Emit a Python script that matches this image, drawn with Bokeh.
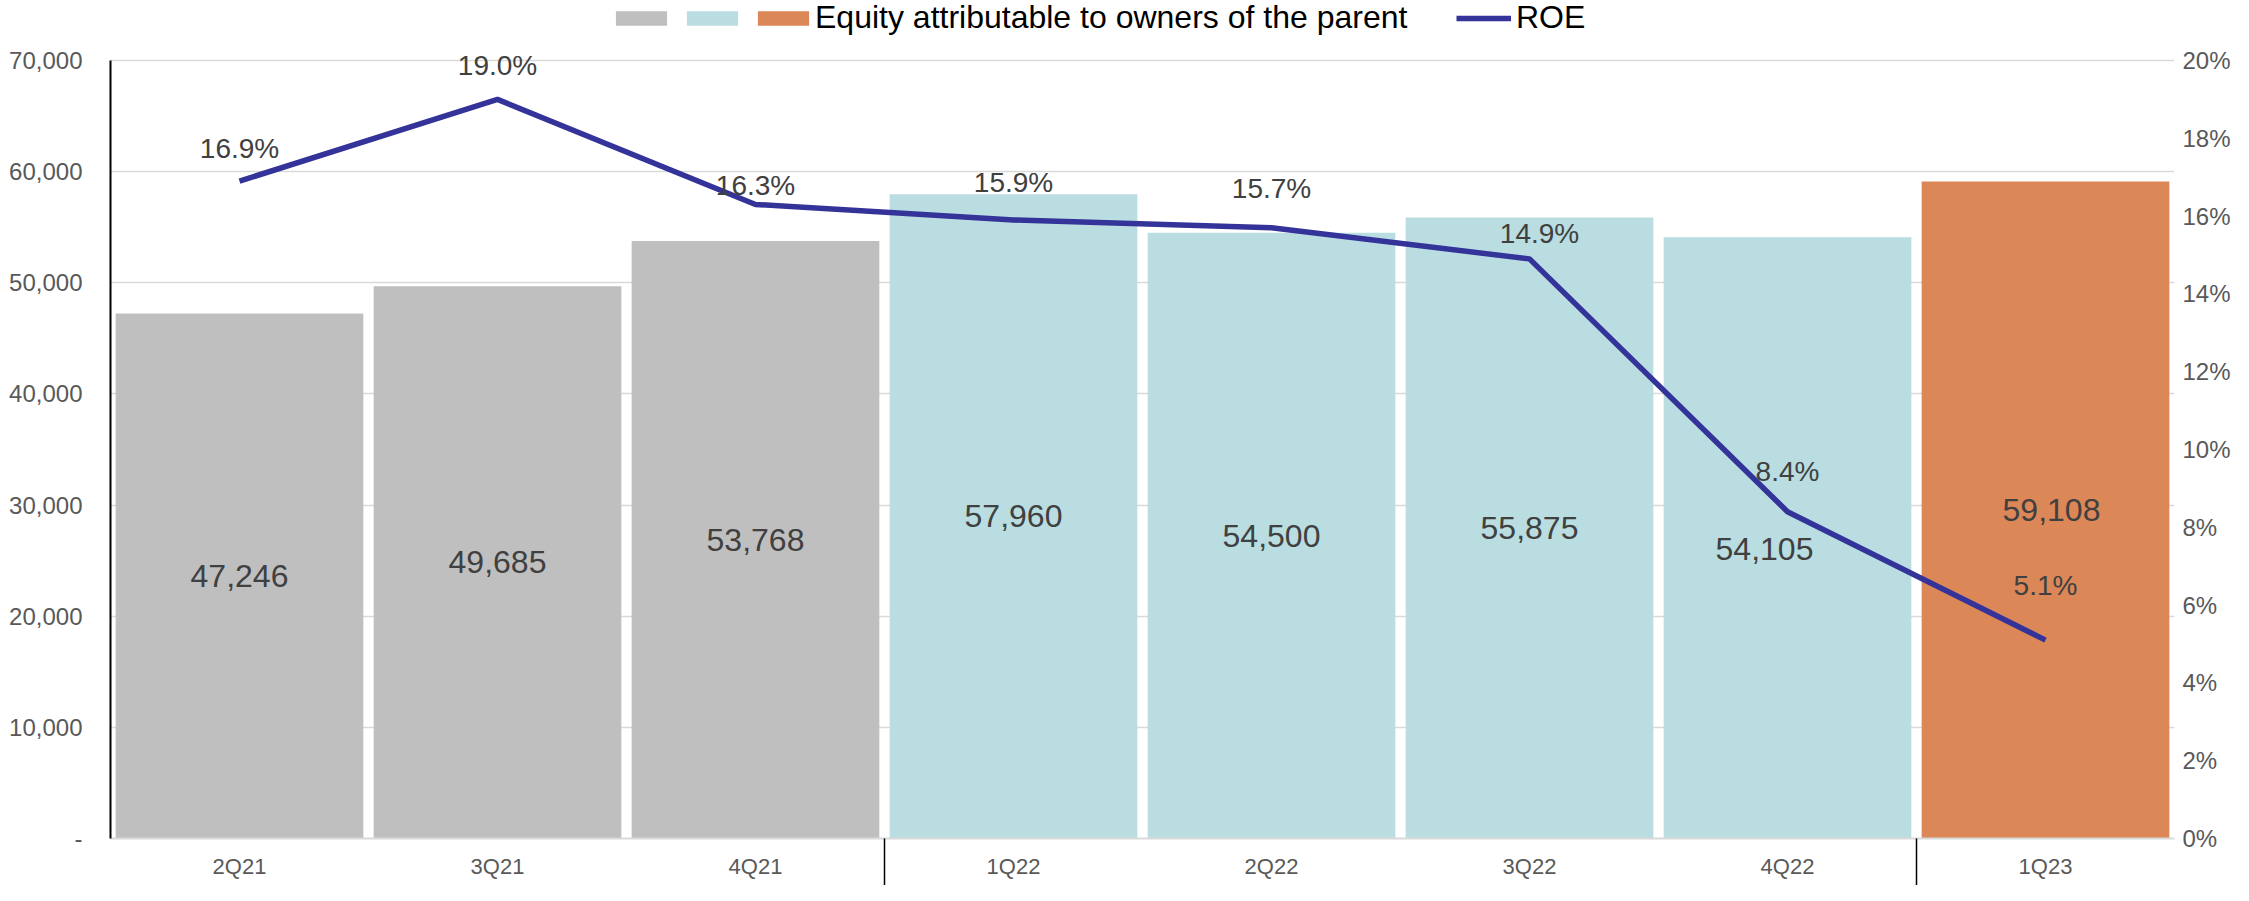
import numpy as np
from bokeh.plotting import figure
from bokeh.models import (ColumnDataSource, Range1d, LinearAxis, FixedTicker,
                          NumeralTickFormatter, PrintfTickFormatter, Legend, LegendItem)
from bokeh.core.properties import value
from bokeh.embed import file_html
from bokeh.resources import INLINE

# ---------------- data ----------------
quarters = ["2Q21", "3Q21", "4Q21", "1Q22", "2Q22", "3Q22", "4Q22", "1Q23"]
equity = [47246, 49685, 53768, 57960, 54500, 55875, 54105, 59108]
roe = [16.9, 19.0, 16.3, 15.9, 15.7, 14.9, 8.4, 5.1]
equity_ticks = [0, 10000, 20000, 30000, 40000, 50000, 60000, 70000]
roe_ticks = [0, 2, 4, 6, 8, 10, 12, 14, 16, 18, 20]
group_breaks = [3, 7]  # boundaries between 4Q21|1Q22 and 4Q22|1Q23
legend_label = "Equity attributable to owners of the parent"
roe_name = "ROE"

# ---------------- style / layout ----------------
FONT = "Liberation Sans"
GRAY, BLUE, ORANGE = "#BFBFBF", "#B9DDE1", "#DC8758"
bar_colors = [GRAY] * 3 + [BLUE] * 4 + [ORANGE]
bar_label_dx = [0, 0, 0, 0, 0, 0, -23, 6]
bar_label_dy = [0, 0, 0, 0, 0, 0, 11, 0]
roe_label_dx = [0, 0, 0, 0, 0, 10, 0, 0]
roe_label_dy = [-33, -34, -19, -37, -39, -25, -40, -55]

W, H = 2233, 885
LEFT, RIGHT, BOTTOM = 110, 58, 47
TOP_PAD = 60                      # space above the 70,000 gridline (legend area)
PLOT_H = H - BOTTOM - TOP_PAD     # pixel height of the value area
eq_max = equity_ticks[-1]
roe_max = roe_ticks[-1]
eq_top = eq_max * (PLOT_H + TOP_PAD) / PLOT_H
roe_top = roe_max * (PLOT_H + TOP_PAD) / PLOT_H

x = np.arange(len(quarters)) + 0.5

src = ColumnDataSource(dict(
    x=x,
    equity=equity,
    half=np.array(equity) / 2.0,
    label=[f"{v:,}" for v in equity],
    color=bar_colors,
    bdx=bar_label_dx, bdy=bar_label_dy,
    roe=roe,
    roe_label=[f"{v:.1f}%" for v in roe],
    rdx=roe_label_dx, rdy=roe_label_dy,
))

p = figure(width=W, height=H,
           x_range=Range1d(0, len(quarters)), y_range=Range1d(0, eq_top),
           output_backend="svg", toolbar_location=None,
           min_border_left=LEFT, min_border_right=RIGHT,
           min_border_top=0, min_border_bottom=BOTTOM)
p.extra_y_ranges = {"roe": Range1d(0, roe_top)}
p.outline_line_color = None
p.background_fill_color = "white"

bars = p.vbar(x="x", top="equity", bottom=0, width=0.96, fill_color="color",
              line_color=None, source=src)

p.text(x="x", y="half", text="label", x_offset="bdx", y_offset="bdy",
       text_align="center", text_baseline="middle",
       text_font=value(FONT), text_font_size="32px", text_color="#404040",
       source=src)

line = p.line(x="x", y="roe", y_range_name="roe", line_color="#333399",
              line_width=5.5, source=src)

p.text(x="x", y="roe", text="roe_label", y_range_name="roe",
       x_offset="rdx", y_offset="rdy",
       text_align="center", text_baseline="middle",
       text_font=value(FONT), text_font_size="28px", text_color="#404040",
       source=src)

# ---------------- axes ----------------
xa = p.xaxis[0]
xa.ticker = FixedTicker(ticks=list(x), minor_ticks=group_breaks)
xa.major_label_overrides = {float(xi): q for xi, q in zip(x, quarters)}
xa.major_tick_out = 0
xa.major_tick_in = 0
xa.major_tick_line_color = None
xa.minor_tick_in = 0
xa.minor_tick_out = BOTTOM
xa.minor_tick_line_color = "black"
xa.minor_tick_line_width = 1.5
xa.axis_line_color = "#D9D9D9"
xa.axis_line_width = 2
xa.major_label_standoff = -32
xa.major_label_text_font = FONT
xa.major_label_text_font_size = "22px"
xa.major_label_text_color = "#595959"

ya = p.yaxis[0]
ya.ticker = FixedTicker(ticks=equity_ticks)
ya.formatter = NumeralTickFormatter(format="0,0")
ya.major_label_overrides = {0: "-"}
ya.bounds = (0, eq_max)
ya.major_tick_out = 0
ya.major_tick_in = 0
ya.major_tick_line_color = None
ya.minor_tick_line_color = None
ya.axis_line_color = "black"
ya.axis_line_width = 2
ya.major_label_standoff = 28
ya.major_label_text_font = FONT
ya.major_label_text_font_size = "24px"
ya.major_label_text_color = "#595959"

ra = LinearAxis(y_range_name="roe", ticker=FixedTicker(ticks=roe_ticks),
                formatter=PrintfTickFormatter(format="%d%%"), bounds=(0, roe_max))
ra.axis_line_color = None
ra.major_tick_line_color = None
ra.minor_tick_line_color = None
ra.major_tick_out = 0
ra.major_tick_in = 0
ra.major_label_standoff = 8
ra.major_label_text_font = FONT
ra.major_label_text_font_size = "24px"
ra.major_label_text_color = "#595959"
p.add_layout(ra, "right")

p.xgrid.visible = False
p.ygrid.ticker = FixedTicker(ticks=equity_ticks)
p.ygrid.grid_line_color = "#D9D9D9"
p.ygrid.grid_line_width = 1.5

# ---------------- legends ----------------
common = dict(orientation="horizontal", padding=0, margin=0,
              border_line_color=None, background_fill_alpha=0,
              label_text_font=FONT, label_text_font_size="32px",
              label_text_color="#000000", label_width=0, label_height=0)

leg_y = PLOT_H + TOP_PAD - 36
leg1 = Legend(items=[LegendItem(label="", renderers=[bars], index=0),
                     LegendItem(label="", renderers=[bars], index=3),
                     LegendItem(label=legend_label, renderers=[bars], index=7)],
              location=(499, leg_y), spacing=7, label_standoff=0,
              glyph_width=64, glyph_height=18, **common)
leg2 = Legend(items=[LegendItem(label=roe_name, renderers=[line])],
              location=(1346, leg_y), spacing=0, label_standoff=5,
              glyph_width=55, glyph_height=14, **common)
p.add_layout(leg1)
p.add_layout(leg2)

open("out.html", "w").write(file_html(p, INLINE))
